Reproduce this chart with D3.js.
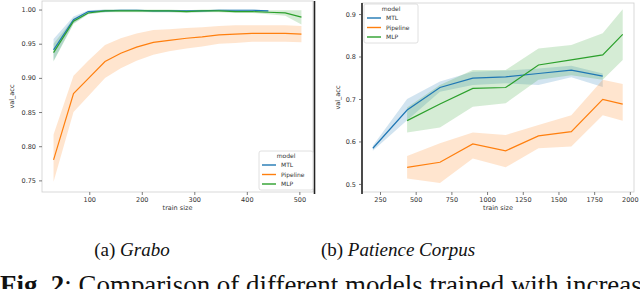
<!DOCTYPE html>
<html>
<head>
<meta charset="utf-8">
<script src="https://cdn.jsdelivr.net/npm/d3@7"></script>
<style>
	body { margin: 0; background: #fff; }
	svg { display: block; }
</style>
</head>
<body>
<div id="chart"></div>
<script>
// (a) Grabo
var grabo_sizes = [32, 70, 98, 130, 160, 190, 222, 252, 285, 315, 347, 378, 410, 441, 473, 504];
var grabo_mtl = [0.941, 0.985, 0.997, 0.998, 0.999, 0.999, 0.998, 0.998, 0.998, 0.998, 0.999, 0.999, 0.999, 0.998];
var grabo_mtl_lo = [0.925, 0.980, 0.994, 0.996, 0.997, 0.997, 0.996, 0.996, 0.996, 0.996, 0.997, 0.997, 0.997, 0.996];
var grabo_mtl_hi = [0.957, 0.990, 0.999, 1.000, 1.000, 1.000, 0.999, 0.999, 0.999, 0.999, 1.000, 1.000, 1.000, 0.999];
var grabo_pipe = [0.780, 0.877, 0.899, 0.924, 0.936, 0.945, 0.952, 0.955, 0.958, 0.960, 0.963, 0.964, 0.965, 0.965, 0.965, 0.964];
var grabo_pipe_lo = [0.748, 0.850, 0.873, 0.900, 0.914, 0.925, 0.934, 0.939, 0.943, 0.946, 0.950, 0.951, 0.953, 0.953, 0.953, 0.952];
var grabo_pipe_hi = [0.817, 0.903, 0.925, 0.948, 0.958, 0.965, 0.970, 0.971, 0.973, 0.974, 0.976, 0.977, 0.977, 0.977, 0.977, 0.976];
var grabo_mlp = [0.937, 0.983, 0.995, 0.998, 0.998, 0.998, 0.998, 0.998, 0.997, 0.998, 0.998, 0.997, 0.997, 0.996, 0.995, 0.989];
var grabo_mlp_lo = [0.924, 0.979, 0.993, 0.996, 0.996, 0.996, 0.996, 0.996, 0.995, 0.996, 0.996, 0.995, 0.995, 0.993, 0.991, 0.978];
var grabo_mlp_hi = [0.950, 0.987, 0.997, 1.000, 1.000, 1.000, 1.000, 1.000, 0.999, 1.000, 1.000, 0.999, 0.999, 0.999, 0.999, 0.999];
var grabo_xticks = [100, 200, 300, 400, 500];
var grabo_yticks = [0.75, 0.80, 0.85, 0.90, 0.95, 1.00];

// (b) Patience Corpus
var pat_sizes_mtl = [200, 440, 670, 900, 1130, 1360, 1590, 1810];
var pat_sizes = [440, 670, 900, 1130, 1360, 1590, 1810, 1950];
var pat_mtl = [0.584, 0.674, 0.727, 0.749, 0.752, 0.760, 0.768, 0.754];
var pat_mtl_lo = [0.578, 0.650, 0.717, 0.733, 0.737, 0.733, 0.751, 0.728];
var pat_mtl_hi = [0.590, 0.700, 0.741, 0.764, 0.767, 0.772, 0.778, 0.760];
var pat_pipe = [0.539, 0.551, 0.594, 0.578, 0.613, 0.623, 0.699, 0.688];
var pat_pipe_lo = [0.513, 0.502, 0.560, 0.539, 0.584, 0.588, 0.662, 0.649];
var pat_pipe_hi = [0.566, 0.596, 0.621, 0.615, 0.639, 0.662, 0.745, 0.735];
var pat_mlp = [0.649, 0.688, 0.725, 0.727, 0.780, 0.792, 0.804, 0.852];
var pat_mlp_lo = [0.621, 0.633, 0.682, 0.690, 0.745, 0.756, 0.745, 0.792];
var pat_mlp_hi = [0.680, 0.733, 0.768, 0.768, 0.819, 0.827, 0.855, 0.911];
var pat_xticks = [250, 500, 750, 1000, 1250, 1500, 1750, 2000];
var pat_yticks = [0.5, 0.6, 0.7, 0.8, 0.9];

var model_names = ["MTL", "Pipeline", "MLP"];
var colors = ["#1f77b4", "#ff7f0e", "#2ca02c"];

var serif = "'Liberation Serif', 'Times New Roman', 'DejaVu Serif', serif";
var W = 640, H = 289;
var svg = d3.select("#chart").append("svg").attr("width", W).attr("height", H);

function zip(xs, m, lo, hi) {
	return m.map(function(v, i) { return {x: xs[i], y: v, lo: lo[i], hi: hi[i]}; });
}

function draw_panel(p) {
	var x = d3.scaleLinear().domain(p.xdom).range([p.left, p.right]);
	var y = d3.scaleLinear().domain(p.ydom).range([p.bottom, p.top]);
	var g = svg.append("g");

	// bands first, then lines
	p.series.forEach(function(s, i) {
		var area = d3.area().x(function(d) { return x(d.x); })
			.y0(function(d) { return y(d.lo); })
			.y1(function(d) { return y(d.hi); });
		g.append("path").datum(s).attr("d", area)
			.attr("fill", colors[i]).attr("fill-opacity", 0.2);
	});
	p.series.forEach(function(s, i) {
		var line = d3.line().x(function(d) { return x(d.x); }).y(function(d) { return y(d.y); });
		g.append("path").datum(s).attr("d", line)
			.attr("fill", "none").attr("stroke", colors[i]).attr("stroke-width", 1.2);
	});

	// spines
	g.append("rect").attr("x", p.left).attr("y", p.top)
		.attr("width", p.right - p.left).attr("height", p.bottom - p.top)
		.attr("fill", "none").attr("stroke", "#cfcfcf").attr("stroke-width", 0.8);
	if (p.dark != null) {
		g.append("line").attr("x1", p.dark).attr("x2", p.dark)
			.attr("y1", p.top).attr("y2", p.bottom + 2)
			.attr("stroke", "#222").attr("stroke-width", 1.6);
	}

	var xa = g.append("g").attr("transform", "translate(0," + p.bottom + ")")
		.call(d3.axisBottom(x).tickValues(p.xticks).tickSize(3).tickPadding(2).tickFormat(d3.format("d")));
	var ya = g.append("g").attr("transform", "translate(" + p.left + ",0)")
		.call(d3.axisLeft(y).tickValues(p.yticks).tickSize(3).tickPadding(3).tickFormat(d3.format(p.yfmt)));
	[xa, ya].forEach(function(a) {
		a.select(".domain").remove();
		a.selectAll("line").attr("stroke", "#444").attr("stroke-width", 0.7);
		a.selectAll("text").attr("fill", "#333")
			.style("font-family", "DejaVu Sans").style("font-size", "6.5px");
	});

	g.append("text").attr("x", (p.left + p.right) / 2).attr("y", p.bottom + 18)
		.attr("text-anchor", "middle").attr("fill", "#333")
		.style("font-family", "DejaVu Sans").style("font-size", "6.5px").text("train size");
	g.append("text")
		.attr("transform", "translate(" + p.ylabx + "," + ((p.top + p.bottom) / 2) + ") rotate(-90)")
		.attr("text-anchor", "middle").attr("fill", "#333")
		.style("font-family", "DejaVu Sans").style("font-size", "6.5px").text("val_acc");

	// legend
	var lg = g.append("g").attr("transform", "translate(" + p.leg[0] + "," + p.leg[1] + ")");
	lg.append("rect").attr("width", 54).attr("height", 39).attr("rx", 2)
		.attr("fill", "#fff").attr("fill-opacity", 0.85).attr("stroke", "#d8d8d8").attr("stroke-width", 0.8);
	lg.append("text").attr("x", 27).attr("y", 6.5).attr("text-anchor", "middle").attr("fill", "#333")
		.style("font-family", "DejaVu Sans").style("font-size", "6px").text("model");
	model_names.forEach(function(n, i) {
		var yy = 14 + i * 9.5;
		lg.append("line").attr("x1", 3).attr("x2", 17).attr("y1", yy).attr("y2", yy)
			.attr("stroke", colors[i]).attr("stroke-width", 1.4);
		lg.append("text").attr("x", 22).attr("y", yy + 2.2).attr("fill", "#333")
			.style("font-family", "DejaVu Sans").style("font-size", "6px").text(n);
	});
}

draw_panel({
	left: 42, right: 313, top: 1, bottom: 192,
	xdom: [10, 526], ydom: [0.733, 1.0125],
	xticks: grabo_xticks, yticks: grabo_yticks, yfmt: ".2f",
	ylabx: 14, dark: 314.5, leg: [259, 151],
	series: [
		zip(grabo_sizes, grabo_mtl, grabo_mtl_lo, grabo_mtl_hi),
		zip(grabo_sizes, grabo_pipe, grabo_pipe_lo, grabo_pipe_hi),
		zip(grabo_sizes, grabo_mlp, grabo_mlp_lo, grabo_mlp_hi)
	]
});

draw_panel({
	left: 362, right: 634, top: 3, bottom: 192,
	xdom: [124, 2029], ydom: [0.481, 0.926],
	xticks: pat_xticks, yticks: pat_yticks, yfmt: ".1f",
	ylabx: 340, dark: 362, leg: [364, 4],
	series: [
		zip(pat_sizes_mtl, pat_mtl, pat_mtl_lo, pat_mtl_hi),
		zip(pat_sizes, pat_pipe, pat_pipe_lo, pat_pipe_hi),
		zip(pat_sizes, pat_mlp, pat_mlp_lo, pat_mlp_hi)
	]
});

// captions
var cap = svg.append("g").style("font-family", serif).style("font-size", "19px").attr("fill", "#111");
var ca = cap.append("text").attr("x", 132).attr("y", 256).attr("text-anchor", "middle");
ca.append("tspan").text("(a) ");
ca.append("tspan").style("font-style", "italic").text("Grabo");
var cb = cap.append("text").attr("x", 398).attr("y", 256).attr("text-anchor", "middle");
cb.append("tspan").text("(b) ");
cb.append("tspan").style("font-style", "italic").text("Patience Corpus");

// figure caption, sized so "increas" reaches the right edge like the source
var fig = svg.append("text").attr("x", 0).attr("y", 294)
	.style("font-family", serif).style("font-size", "22px").attr("fill", "#111");
fig.append("tspan").style("font-weight", "bold").text("Fig. 2");
fig.append("tspan").text(": Comparison of different models trained with increasing");
var n = "Fig. 2: Comparison of different models trained with increas".length;
var w = fig.node().getSubStringLength(0, n);
fig.style("font-size", (22 * 642 / w) + "px");
</script>
</body>
</html>
